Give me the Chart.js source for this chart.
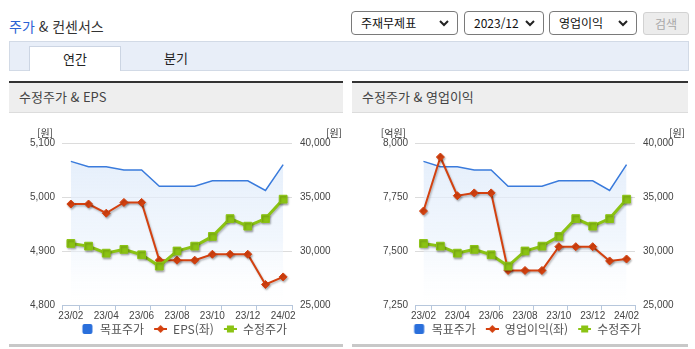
<!DOCTYPE html>
<html lang="ko">
<head>
<meta charset="utf-8">
<title>주가 &amp; 컨센서스</title>
<script src="https://cdn.jsdelivr.net/npm/chart.js@4"></script>
<style>
    body {
        margin: 0;
        width: 695px;
        height: 349px;
        position: relative;
        overflow: hidden;
        background: #fff;
        font-family: "Noto Sans CJK KR", "Noto Sans", sans-serif;
        color: #333;
    }
    .abs { position: absolute; }
    .page-title { left: 9px; top: 16px; font-size: 14px; line-height: 20px; color: #333; }
    .page-title .blue { color: #2b62d4; }
    .sel {
        top: 11px;
        height: 24px;
        box-sizing: border-box;
        border: 1px solid #7a7a7a;
        border-radius: 4px;
        background: #fff;
        font-size: 12px;
        line-height: 22px;
        padding-left: 9px;
        color: #111;
    }
    .sel svg { position: absolute; right: 8px; top: 8px; }
    .btn {
        left: 643px; top: 12px; width: 46px; height: 23px;
        box-sizing: border-box;
        border: 1px solid #d2d2d2; border-radius: 3px;
        background: #ececec; color: #a8a8a8;
        font-size: 12px; line-height: 21px; text-align: center;
    }
    .tabbar {
        left: 9px; top: 41px; width: 680px; height: 30px;
        box-sizing: border-box;
        background: #e8eef8; border: 1px solid #d2dae6;
    }
    .tab {
        top: 46px; height: 25px; width: 92px;
        font-size: 13px; line-height: 23px; text-align: center; color: #222;
    }
    .tab.on { left: 29px; background: #fff; border: 1px solid #ccd5e3; border-bottom: none; box-sizing: border-box; }
    .panel-head {
        top: 81px; height: 32px;
        box-sizing: border-box;
        border-top: 2px solid #333;
        border-bottom: 1px solid #dcdcdc;
        background: #eeeeee;
        font-size: 13px; line-height: 28px; color: #444;
        padding-left: 10px;
    }
    .panel-foot { top: 344px; height: 3px; background: #c8c8c8; }
    canvas.chart { position: absolute; top: 113px; }
</style>
</head>
<body>

<div class="abs page-title"><span class="blue">주가</span> &amp; 컨센서스</div>

<div class="abs sel" style="left:351px; width:107px;">주재무제표<svg width="10" height="7"><polyline points="1,1 5,5 9,1" fill="none" stroke="#222" stroke-width="2"/></svg></div>
<div class="abs sel" style="left:464px; width:80px;">2023/12<svg width="10" height="7"><polyline points="1,1 5,5 9,1" fill="none" stroke="#222" stroke-width="2"/></svg></div>
<div class="abs sel" style="left:549px; width:88px;">영업이익<svg width="10" height="7"><polyline points="1,1 5,5 9,1" fill="none" stroke="#222" stroke-width="2"/></svg></div>
<div class="abs btn">검색</div>

<div class="abs tabbar"></div>
<div class="abs tab on">연간</div>
<div class="abs tab" style="left:130px;">분기</div>

<div class="abs panel-head" style="left:9px; width:334px;">수정주가 &amp; EPS</div>
<div class="abs panel-head" style="left:352px; width:336px;">수정주가 &amp; 영업이익</div>

<canvas id="epsChart" class="chart" width="334" height="232" style="left:9px;"></canvas>
<canvas id="opChart" class="chart" width="334" height="232" style="left:352px;"></canvas>

<div class="abs panel-foot" style="left:9px; width:334px;"></div>
<div class="abs panel-foot" style="left:352px; width:336px;"></div>

<script>
// monthly points, labels shown every other month
const months = ['23/02', '23/03', '23/04', '23/05', '23/06', '23/07', '23/08',
                '23/09', '23/10', '23/11', '23/12', '24/01', '24/02'];

// right axis (원)
const targetPrice = [38300, 37800, 37800, 37500, 37500, 36000, 36000, 36000, 36500, 36500, 36500, 35600, 38000];
const adjPrice = [30700, 30450, 29800, 30150, 29650, 28600, 30000, 30450, 31350, 33000, 32300, 33000, 34800];

// left axis
const eps = [4987, 4987, 4970, 4990, 4990, 4883, 4883, 4883, 4894, 4894, 4894, 4838, 4852];
const opIncome = [7685, 7935, 7756, 7769, 7769, 7410, 7410, 7410, 7520, 7520, 7520, 7454, 7463];

const priceTicks = [25000, 30000, 35000, 40000];
const epsTicks = [4800, 4900, 5000, 5100];
const opTicks = [7250, 7500, 7750, 8000];

const BLUE = '#3a7bdc';
const RED = '#d4410f';
const GREEN = '#8bc314';
const AXIS = '#b7c7dc';
const GRID = '#dcdcdc';
const tickFont = { family: "'Liberation Sans Narrow', 'Liberation Sans', Arial, sans-serif", size: 10 };

// legend swatches; the empty 6px on the left spaces the items apart
function makeSwatch(kind, color) {
    const c = document.createElement('canvas');
    c.width = 19;
    c.height = 10;
    const g = c.getContext('2d');
    g.translate(6, 0);
    g.fillStyle = color;
    g.strokeStyle = color;
    if (kind === 'box') {
        g.beginPath();
        g.roundRect(1.5, 0, 10, 10, 2);
        g.fill();
        return c;
    }
    g.lineWidth = 2;
    g.beginPath();
    g.moveTo(0, 5);
    g.lineTo(13, 5);
    g.stroke();
    g.beginPath();
    if (kind === 'diamond') {
        g.moveTo(6.5, 1); g.lineTo(10.5, 5); g.lineTo(6.5, 9); g.lineTo(2.5, 5);
    } else {
        g.rect(3, 1.5, 7, 7);
    }
    g.closePath();
    g.fill();
    return c;
}

const swatches = [makeSwatch('box', '#2a6fdb'), makeSwatch('diamond', RED), makeSwatch('square', GREEN)];

const lineShadow = {
    id: 'lineShadow',
    beforeDatasetDraw(chart, args) {
        if (args.index === 0) return;
        const ctx = chart.ctx;
        ctx.save();
        ctx.shadowColor = 'rgba(0, 0, 0, 0.28)';
        ctx.shadowBlur = 2;
        ctx.shadowOffsetX = 1;
        ctx.shadowOffsetY = 1.5;
    },
    afterDatasetDraw(chart, args) {
        if (args.index === 0) return;
        chart.ctx.restore();
    }
};

// unit captions above both value axes
const unitLabels = {
    id: 'unitLabels',
    afterDraw(chart, args, opts) {
        const { ctx, chartArea } = chart;
        ctx.save();
        ctx.font = '10px "Noto Sans CJK KR"';
        ctx.fillStyle = '#333';
        ctx.textAlign = 'right';
        ctx.textBaseline = 'middle';
        ctx.fillText(opts.left, chartArea.left - 9, chartArea.top - 10);
        ctx.fillText(opts.right, chartArea.right + 50, chartArea.top - 10);
        ctx.restore();
    }
};

function areaFill(context) {
    const { chart } = context;
    const area = chart.chartArea;
    if (!area) return 'rgba(225, 236, 250, 0.7)';
    const g = chart.ctx.createLinearGradient(0, area.top, 0, area.bottom);
    g.addColorStop(0, 'rgba(222, 234, 250, 0.85)');
    g.addColorStop(0.6, 'rgba(232, 241, 252, 0.6)');
    g.addColorStop(1, 'rgba(255, 255, 255, 0.2)');
    return g;
}

function makeChart(canvasId, leftLabel, leftData, leftTicks, leftUnit, leftWidth) {
    const ctx = document.getElementById(canvasId).getContext('2d');
    const leftMin = leftTicks[0];
    const leftMax = leftTicks[leftTicks.length - 1];

    return new Chart(ctx, {
        type: 'line',
        data: {
            labels: months,
            datasets: [
                {
                    label: '목표주가',
                    data: targetPrice,
                    yAxisID: 'y1',
                    borderColor: BLUE,
                    borderWidth: 1.5,
                    pointRadius: 0,
                    fill: 'start',
                    backgroundColor: areaFill,
                    order: 3
                },
                {
                    label: leftLabel,
                    data: leftData,
                    yAxisID: 'y',
                    borderColor: RED,
                    borderWidth: 2,
                    pointStyle: 'rectRot',
                    pointRadius: 4,
                    pointBackgroundColor: RED,
                    pointBorderColor: RED,
                    pointBorderWidth: 1,
                    order: 2
                },
                {
                    label: '수정주가',
                    data: adjPrice,
                    yAxisID: 'y1',
                    borderColor: GREEN,
                    borderWidth: 3,
                    pointStyle: 'rect',
                    pointRadius: 5.5,
                    pointBackgroundColor: GREEN,
                    pointBorderColor: GREEN,
                    pointBorderWidth: 1,
                    order: 1
                }
            ]
        },
        options: {
            responsive: false,
            animation: false,
            layout: { padding: { left: 10, top: 30, right: 0, bottom: 0 } },
            scales: {
                x: {
                    offset: true,
                    grid: {
                        offset: true,
                        drawOnChartArea: false,
                        tickLength: 5,
                        color: c => (c.type === 'scale' || c.index === 0 || c.index % 2 === 1) ? AXIS : 'transparent'
                    },
                    border: { color: AXIS },
                    ticks: {
                        autoSkip: false,
                        maxRotation: 0,
                        padding: 0,
                        color: '#444',
                        font: tickFont,
                        callback: (v, i) => (i % 2 === 0 ? months[i] : '')
                    },
                    afterFit: s => { s.height = 14; }
                },
                y: {
                    position: 'left',
                    min: leftMin,
                    max: leftMax,
                    afterBuildTicks: s => { s.ticks = leftTicks.map(v => ({ value: v })); },
                    grid: {
                        drawTicks: false,
                        color: c => (c.tick && c.tick.value === leftMin ? AXIS : GRID)
                    },
                    border: { display: false },
                    ticks: {
                        padding: 7,
                        color: '#444',
                        font: tickFont,
                        callback: v => v.toLocaleString('en-US')
                    },
                    afterFit: s => { s.width = leftWidth; }
                },
                y1: {
                    position: 'right',
                    min: priceTicks[0],
                    max: priceTicks[priceTicks.length - 1],
                    afterBuildTicks: s => { s.ticks = priceTicks.map(v => ({ value: v })); },
                    grid: { drawOnChartArea: false, drawTicks: false },
                    border: { display: false },
                    ticks: {
                        padding: 8,
                        color: '#444',
                        font: tickFont,
                        callback: v => v.toLocaleString('en-US')
                    },
                    afterFit: s => { s.width = 51; }
                }
            },
            plugins: {
                legend: {
                    position: 'bottom',
                    labels: {
                        usePointStyle: true,
                        pointStyleWidth: 19,
                        padding: 4,
                        color: '#555',
                        font: { family: '"Noto Sans CJK KR"', size: 12 },
                        generateLabels: chart => chart.data.datasets.map((ds, i) => ({
                            text: ds.label,
                            pointStyle: swatches[i],
                            fillStyle: ds.borderColor,
                            strokeStyle: ds.borderColor,
                            lineWidth: 0,
                            fontColor: '#555',
                            hidden: false,
                            datasetIndex: i
                        }))
                    }
                },
                tooltip: { enabled: false },
                unitLabels: { left: leftUnit, right: '[원]' }
            }
        },
        plugins: [lineShadow, unitLabels]
    });
}

makeChart('epsChart', 'EPS(좌)', eps, epsTicks, '[원]', 43);
makeChart('opChart', '영업이익(좌)', opIncome, opTicks, '[억원]', 53);
</script>
</body>
</html>
